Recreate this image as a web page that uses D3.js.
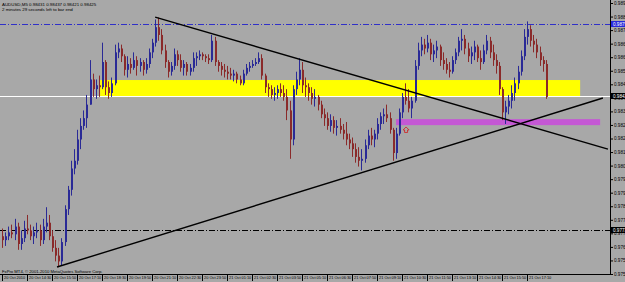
<!DOCTYPE html>
<html>
<head>
<meta charset="utf-8">
<script src="https://cdnjs.cloudflare.com/ajax/libs/d3/7.8.5/d3.min.js"></script>
<style>
  body { margin: 0; background: #a8a8a8; }
  svg { display: block; font-family: "Liberation Sans", Arial, sans-serif; }
</style>
</head>
<body>
<svg id="chart"></svg>
<script>
var w = 625;
var h = 282;

// AUDUSD 10-minute candles (open = previous close)
var firstOpen = 0.9770;
var highs = [
  0.9774,0.9772,0.9775,0.9776,0.9779,0.9777,0.9773,0.9778,0.9781,0.9776,
  0.9775,0.9777,0.9776,0.9779,0.9785,0.9781,0.9773,0.9768,0.9764,0.9769,
  0.9786,0.9796,0.9809,0.9815,0.9825,0.9831,0.9835,0.9843,0.9861,0.9854,
  0.9851,0.9853,0.9870,0.9861,0.9850,0.9852,0.9869,0.9870,0.9869,0.9864,
  0.9863,0.9862,0.9865,0.9863,0.9862,0.9861,0.9862,0.9867,0.9872,0.9882,
  0.9883,0.9877,0.9869,0.9861,0.9860,0.9867,0.9866,0.9864,0.9861,0.9860,
  0.9859,0.9865,0.9865,0.9866,0.9865,0.9864,0.9864,0.9874,0.9873,0.9861,
  0.9860,0.9859,0.9858,0.9857,0.9856,0.9855,0.9853,0.9856,0.9859,0.9860,
  0.9861,0.9862,0.9865,0.9864,0.9854,0.9849,0.9848,0.9847,0.9848,0.9849,
  0.9848,0.9846,0.9840,0.9848,0.9855,0.9862,0.9860,0.9852,0.9849,0.9847,
  0.9846,0.9843,0.9840,0.9836,0.9834,0.9833,0.9832,0.9830,0.9831,0.9828,
  0.9829,0.9823,0.9821,0.9818,0.9816,0.9815,0.9820,0.9825,0.9826,0.9825,
  0.9831,0.9834,0.9836,0.9838,0.9834,0.9826,0.9826,0.9836,0.9844,0.9849,
  0.9846,0.9842,0.9861,0.9870,0.9873,0.9872,0.9874,0.9872,0.9869,0.9871,
  0.9869,0.9865,0.9862,0.9860,0.9863,0.9867,0.9873,0.9877,0.9874,0.9870,
  0.9868,0.9871,0.9869,0.9866,0.9869,0.9874,0.9873,0.9869,0.9864,0.9860,
  0.9847,0.9840,0.9843,0.9848,0.9852,0.9858,0.9866,0.9877,0.9881,0.9879,
  0.9874,0.9872,0.9868,0.9863,0.9861
];
var lows = [
  0.9764,0.9765,0.9768,0.9769,0.9768,0.9763,0.9763,0.9767,0.9771,0.9768,
  0.9766,0.9769,0.9765,0.9766,0.9772,0.9768,0.9762,0.9757,0.9754,0.9755,
  0.9765,0.9781,0.9791,0.9802,0.9807,0.9815,0.9825,0.9826,0.9843,0.9842,
  0.9841,0.9842,0.9846,0.9843,0.9841,0.9842,0.9848,0.9862,0.9860,0.9853,
  0.9852,0.9854,0.9856,0.9853,0.9855,0.9853,0.9854,0.9857,0.9862,0.9868,
  0.9871,0.9864,0.9857,0.9852,0.9853,0.9856,0.9858,0.9855,0.9853,0.9853,
  0.9853,0.9855,0.9858,0.9861,0.9861,0.9860,0.9859,0.9860,0.9858,0.9855,
  0.9853,0.9852,0.9851,0.9851,0.9850,0.9849,0.9848,0.9848,0.9853,0.9855,
  0.9857,0.9858,0.9859,0.9851,0.9844,0.9842,0.9841,0.9840,0.9841,0.9842,
  0.9840,0.9830,0.9810,0.9817,0.9843,0.9848,0.9844,0.9842,0.9840,0.9838,
  0.9837,0.9835,0.9831,0.9827,0.9825,0.9824,0.9823,0.9822,0.9823,0.9820,
  0.9817,0.9815,0.9811,0.9808,0.9806,0.9804,0.9808,0.9815,0.9817,0.9816,
  0.9820,0.9825,0.9828,0.9829,0.9823,0.9809,0.9810,0.9822,0.9831,0.9838,
  0.9834,0.9831,0.9839,0.9856,0.9863,0.9864,0.9865,0.9861,0.9860,0.9862,
  0.9858,0.9856,0.9854,0.9852,0.9854,0.9859,0.9863,0.9866,0.9864,0.9860,
  0.9859,0.9861,0.9860,0.9856,0.9859,0.9864,0.9862,0.9858,0.9854,0.9843,
  0.9830,0.9828,0.9833,0.9836,0.9840,0.9846,0.9853,0.9861,0.9869,0.9868,
  0.9865,0.9862,0.9858,0.9855,0.9841
];
var closes = [
  0.9768,0.9770,0.9772,0.9771,0.9775,0.9766,0.9769,0.9774,0.9773,0.9770,
  0.9772,0.9773,0.9768,0.9775,0.9777,0.9770,0.9764,0.9760,0.9757,0.9767,
  0.9784,0.9794,0.9805,0.9809,0.9820,0.9827,0.9831,0.9838,0.9851,0.9846,
  0.9848,0.9847,0.9860,0.9847,0.9844,0.9849,0.9865,0.9867,0.9863,0.9856,
  0.9859,0.9857,0.9861,0.9858,0.9860,0.9856,0.9859,0.9865,0.9870,0.9878,
  0.9874,0.9866,0.9860,0.9855,0.9858,0.9864,0.9861,0.9857,0.9859,0.9855,
  0.9857,0.9862,0.9863,0.9864,0.9863,0.9862,0.9861,0.9871,0.9860,0.9858,
  0.9856,0.9855,0.9854,0.9853,0.9854,0.9851,0.9849,0.9854,0.9857,0.9858,
  0.9859,0.9860,0.9862,0.9853,0.9847,0.9846,0.9843,0.9844,0.9846,0.9844,
  0.9842,0.9835,0.9820,0.9846,0.9851,0.9856,0.9848,0.9847,0.9844,0.9841,
  0.9842,0.9838,0.9833,0.9831,0.9827,0.9830,0.9826,0.9827,0.9825,0.9823,
  0.9820,0.9818,0.9815,0.9811,0.9809,0.9810,0.9817,0.9822,0.9820,0.9823,
  0.9828,0.9832,0.9833,0.9831,0.9825,0.9813,0.9823,0.9834,0.9842,0.9840,
  0.9836,0.9840,0.9858,0.9866,0.9869,0.9867,0.9870,0.9864,0.9866,0.9868,
  0.9861,0.9859,0.9856,0.9855,0.9861,0.9865,0.9871,0.9872,0.9867,0.9863,
  0.9865,0.9868,0.9862,0.9860,0.9866,0.9871,0.9865,0.9861,0.9858,0.9846,
  0.9834,0.9837,0.9840,0.9844,0.9849,0.9855,0.9863,0.9873,0.9877,0.9871,
  0.9869,0.9865,0.9861,0.9859,0.9842
];

// time labels, one every 8 candles
var timeLabels = [
  '20 Oct 2010','20 Oct 14:30','20 Oct 15:50','20 Oct 17:10','20 Oct 18:30',
  '20 Oct 19:50','20 Oct 21:10','20 Oct 22:30','20 Oct 23:50','21 Oct 01:10',
  '21 Oct 02:30','21 Oct 03:50','21 Oct 05:10','21 Oct 06:30','21 Oct 07:50',
  '21 Oct 09:10','21 Oct 10:30','21 Oct 11:50','21 Oct 13:10','21 Oct 14:30',
  '21 Oct 15:50','21 Oct 17:10'
];
var labelStep = 8;
var priceTicks = d3.range(0, 21).map(function (k) { return 0.97505 + k * 0.0007; });

// objects drawn on the chart: [candle index, price]
var bidPrice = 0.98425;
var blueLevel = 0.98797;
var blackLevel = 0.97732;
var trendDown = [[49.0, 0.98832], [193.9, 0.98150]];
var trendUp = [[17.6, 0.97541], [192.3, 0.98414]];
var yellowZone = [[31.4, 0.98507], [185.0, 0.98419]];
var violetZone = [[126.1, 0.98305], [191.4, 0.98274]];
var arrowMark = [129.3, 0.98249];

var right = 610;
var bottom = 274;

var x = d3.scaleLinear().domain([0, 174]).range([2, 545.75]);
var y = d3.scaleLinear().domain([0.97505, 0.98905]).range([274, 3]);

var svg = d3.select('#chart').attr('width', w).attr('height', h);

svg.append('rect').attr('width', w).attr('height', h).attr('fill', '#a8a8a8');

var plot = svg.append('g');
plot.append('clipPath').attr('id', 'clip')
  .append('rect').attr('width', right).attr('height', bottom);
var g = plot.append('g').attr('clip-path', 'url(#clip)');

// zones
g.append('rect')
  .attr('x', x(yellowZone[0][0])).attr('y', y(yellowZone[0][1]))
  .attr('width', x(yellowZone[1][0]) - x(yellowZone[0][0]))
  .attr('height', y(yellowZone[1][1]) - y(yellowZone[0][1]))
  .attr('fill', '#ffff00');
g.append('rect')
  .attr('x', x(violetZone[0][0])).attr('y', y(violetZone[0][1]))
  .attr('width', x(violetZone[1][0]) - x(violetZone[0][0]))
  .attr('height', y(violetZone[1][1]) - y(violetZone[0][1]))
  .attr('fill', '#c458d4');

// horizontal levels
g.append('line').attr('x1', 0).attr('x2', right)
  .attr('y1', Math.round(y(blueLevel)) + 0.5).attr('y2', Math.round(y(blueLevel)) + 0.5)
  .attr('stroke', '#3030c8').attr('stroke-dasharray', '6,2,1,2');
g.append('line').attr('x1', 0).attr('x2', right)
  .attr('y1', Math.round(y(blackLevel)) + 0.5).attr('y2', Math.round(y(blackLevel)) + 0.5)
  .attr('stroke', '#000').attr('stroke-dasharray', '6,2,1,2');
g.append('line').attr('x1', 0).attr('x2', right)
  .attr('y1', Math.round(y(bidPrice)) + 0.5).attr('y2', Math.round(y(bidPrice)) + 0.5)
  .attr('stroke', '#ffffff');

// candles
var candles = closes.map(function (c, i) {
  return { i: i, o: i === 0 ? firstOpen : closes[i - 1], h: highs[i], l: lows[i], c: c };
});

var cg = g.selectAll('g.candle')
  .data(candles)
  .enter()
  .append('g')
  .attr('class', 'candle');

cg.append('line')
  .attr('x1', function (d) { return Math.round(x(d.i)) + 0.5; })
  .attr('x2', function (d) { return Math.round(x(d.i)) + 0.5; })
  .attr('y1', function (d) { return y(Math.max(d.h, d.o, d.c)); })
  .attr('y2', function (d) { return y(Math.min(d.l, d.o, d.c)); })
  .attr('stroke', function (d) { return d.c >= d.o ? '#2a2a96' : '#8a2a2a'; });

cg.append('rect')
  .attr('x', function (d) { return Math.round(x(d.i)); })
  .attr('y', function (d) { return y(Math.max(d.o, d.c)); })
  .attr('width', 2)
  .attr('height', function (d) { return Math.max(1, Math.abs(y(d.o) - y(d.c))); })
  .attr('fill', function (d) { return d.c >= d.o ? '#2a2a96' : '#8a2a2a'; });

// trend lines
[trendDown, trendUp].forEach(function (t) {
  g.append('line')
    .attr('x1', x(t[0][0])).attr('y1', y(t[0][1]))
    .attr('x2', x(t[1][0])).attr('y2', y(t[1][1]))
    .attr('stroke', '#000').attr('stroke-width', 1.4);
});

// small red arrow
var ax = x(arrowMark[0]), ay = y(arrowMark[1]);
g.append('path')
  .attr('d', 'M' + ax + ',' + (ay - 3) + 'l3,3h-1.5v2.5h-3v-2.5h-1.5z')
  .attr('fill', 'none').attr('stroke', '#d02020').attr('stroke-width', 0.8);

// price axis
var yAxis = d3.axisRight(y)
  .tickValues(priceTicks)
  .tickFormat(d3.format('.5f'))
  .tickSize(3)
  .tickSizeOuter(0)
  .tickPadding(1);
var ya = svg.append('g').attr('transform', 'translate(' + right + ',0)').call(yAxis);
ya.select('.domain').attr('stroke', '#000').attr('d', 'M0.5,0V' + bottom);
ya.selectAll('line').attr('stroke', '#000');
ya.selectAll('text').attr('font-size', 4.6).attr('fill', '#000');

// highlighted price labels
[[blueLevel, '#2626d8'], [bidPrice, '#000000'], [blackLevel, '#000000']].forEach(function (p) {
  var yy = Math.round(y(p[0]));
  svg.append('rect').attr('x', right + 1).attr('y', yy - 3).attr('width', 15).attr('height', 6)
    .attr('fill', p[1]);
  svg.append('text').attr('x', right + 3).attr('y', yy + 1.7)
    .attr('font-size', 4.6).attr('fill', '#fff').text(d3.format('.5f')(p[0]));
});

// time axis
var xAxis = d3.axisBottom(x)
  .tickValues(timeLabels.map(function (d, k) { return k * labelStep; }))
  .tickFormat(function (d) { return timeLabels[d / labelStep]; })
  .tickSize(7)
  .tickSizeOuter(0);
var xa = svg.append('g').attr('transform', 'translate(0,' + bottom + ')').call(xAxis);
xa.select('.domain').attr('stroke', '#000').attr('d', 'M0,0.5H' + (right + 1));
xa.selectAll('line').attr('stroke', '#000');
xa.selectAll('text')
  .attr('font-size', 3.9).attr('fill', '#000')
  .attr('text-anchor', 'start').attr('x', 1.5).attr('y', 2).attr('dy', '0.71em');

// header and footer text
svg.append('text').attr('x', 2).attr('y', 5.5).attr('font-size', 4.4).attr('fill', '#000')
  .text('AUDUSD,M5  0.98431 0.98437 0.98421 0.98425');
svg.append('text').attr('x', 2).attr('y', 11).attr('font-size', 4.4).attr('fill', '#000')
  .text('2 minutes 29 seconds left to bar end');
svg.append('text').attr('x', 2).attr('y', 272.5).attr('font-size', 4.2).attr('fill', '#000')
  .text('FxPro MT4, \u00a9 2001-2010 MetaQuotes Software Corp.');
</script>
</body>
</html>
